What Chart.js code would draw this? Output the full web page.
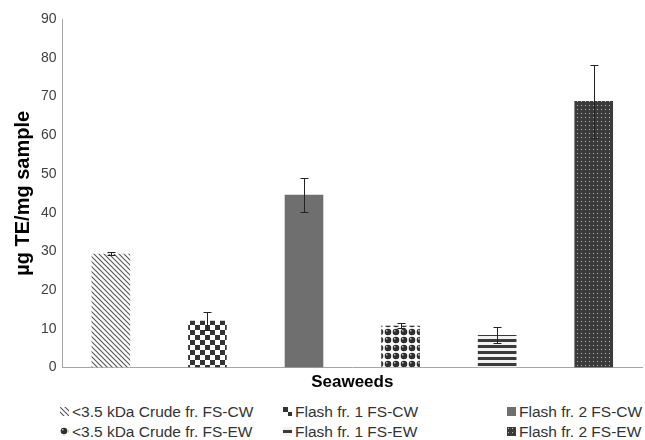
<!DOCTYPE html>
<html>
<head>
<meta charset="utf-8">
<script src="https://cdn.jsdelivr.net/npm/chart.js@4.4.0/dist/chart.umd.min.js"></script>
<style>
  html, body { margin: 0; padding: 0; background: #fff; }
  #wrap { width: 645px; height: 440px; position: relative; overflow: hidden; }
  #seaweed-chart { display: block; }
  #legend { position: absolute; left: 0; top: 402px; width: 645px; height: 40px;
            font-family: "Liberation Sans", Arial, sans-serif; font-size: 15.5px; color: #333; }
  .item { position: absolute; height: 20px; line-height: 20px; white-space: nowrap; }
  .item canvas { display: inline-block; vertical-align: middle; margin-right: 3px; position: relative; top: -1px; }
</style>
</head>
<body>
<div id="wrap">
  <canvas id="seaweed-chart" width="645" height="398"></canvas>
  <div id="legend"></div>
</div>
<script>
// data
var seriesNames = [
  "<3.5 kDa Crude fr. FS-CW",
  "Flash fr. 1 FS-CW",
  "Flash fr. 2 FS-CW",
  "<3.5 kDa Crude fr. FS-EW",
  "Flash fr. 1 FS-EW",
  "Flash fr. 2 FS-EW"
];
var values = [29.4, 12.1, 44.6, 10.8, 8.4, 68.8];
var errors = [0.4, 2.3, 4.4, 0.6, 2.1, 9.4];
var yTicks = [0, 10, 20, 30, 40, 50, 60, 70, 80, 90];

// little pattern tiles like the excel fills
function makeTile(w, h, draw) {
  var c = document.createElement("canvas");
  c.width = w;
  c.height = h;
  var g = c.getContext("2d");
  draw(g, w, h);
  return c.getContext("2d").createPattern(c, "repeat");
}

var diagonal = makeTile(5, 5, function (g, w, h) {
  g.fillStyle = "#fff";
  g.fillRect(0, 0, w, h);
  g.strokeStyle = "#555";
  g.lineWidth = 1.1;
  g.beginPath();
  g.moveTo(-1, -1); g.lineTo(w + 1, h + 1);
  g.moveTo(-1 - w, -1); g.lineTo(1, h + 1);
  g.moveTo(w - 1, -1); g.lineTo(2 * w + 1, h + 1);
  g.stroke();
});

var checker = makeTile(10, 10, function (g, w, h) {
  g.fillStyle = "#fff";
  g.fillRect(0, 0, w, h);
  g.fillStyle = "#333";
  g.fillRect(0, 0, 5, 5);
  g.fillRect(5, 5, 5, 5);
});

var solid = "#6f6f6f";

var spheres = makeTile(8, 8, function (g, w, h) {
  g.fillStyle = "#fff";
  g.fillRect(0, 0, w, h);
  g.fillStyle = "#2f2f2f";
  g.beginPath();
  g.arc(4, 4, 3.3, 0, Math.PI * 2);
  g.fill();
  g.fillStyle = "#bbb";
  g.fillRect(2, 2, 1.5, 1.5);
});

var hlines = makeTile(6, 6, function (g, w, h) {
  g.fillStyle = "#f2f2f2";
  g.fillRect(0, 0, w, h);
  g.fillStyle = "#3a3a3a";
  g.fillRect(0, 3, w, 3);
});

var dots = makeTile(4, 4, function (g, w, h) {
  g.fillStyle = "#3b3b3b";
  g.fillRect(0, 0, w, h);
  g.fillStyle = "#b5b5b5";
  g.fillRect(1, 1, 1, 1);
});

var fills = [diagonal, checker, solid, spheres, hlines, dots];

var datasets = seriesNames.map(function (name, i) {
  return {
    label: name,
    data: [values[i]],
    errs: [errors[i]],
    backgroundColor: fills[i],
    borderWidth: 0,
    categoryPercentage: 1.0,
    barPercentage: 0.4
  };
});

// excel style error bars
var errorBars = {
  id: "errorBars",
  afterDatasetsDraw: function (chart) {
    var ctx = chart.ctx;
    var yScale = chart.scales.y;
    ctx.save();
    ctx.strokeStyle = "#222";
    ctx.lineWidth = 1;
    chart.data.datasets.forEach(function (ds, i) {
      var meta = chart.getDatasetMeta(i);
      meta.data.forEach(function (bar, j) {
        var v = ds.data[j];
        var e = ds.errs[j];
        var top = Math.round(yScale.getPixelForValue(v + e)) + 0.5;
        var bot = Math.round(yScale.getPixelForValue(v - e)) + 0.5;
        var x = Math.round(bar.x) + 0.5;
        ctx.beginPath();
        ctx.moveTo(x, top); ctx.lineTo(x, bot);
        ctx.moveTo(x - 4, top); ctx.lineTo(x + 4, top);
        ctx.moveTo(x - 4, bot); ctx.lineTo(x + 4, bot);
        ctx.stroke();
      });
    });
    ctx.restore();
  }
};

// legend in html so the three columns sit where excel put them
var legendCols = [60, 283, 507];
var htmlLegend = {
  id: "htmlLegend",
  afterUpdate: function (chart) {
    var box = document.getElementById("legend");
    box.innerHTML = "";
    chart.data.datasets.forEach(function (ds, i) {
      var item = document.createElement("div");
      item.className = "item";
      item.style.left = legendCols[i % 3] + "px";
      item.style.top = (Math.floor(i / 3) * 20) + "px";
      var sw = document.createElement("canvas");
      sw.width = 9;
      sw.height = 9;
      var g = sw.getContext("2d");
      g.fillStyle = ds.backgroundColor;
      g.fillRect(0, 0, 9, 9);
      item.appendChild(sw);
      item.appendChild(document.createTextNode(ds.label));
      box.appendChild(item);
    });
  }
};

var ctx = document.getElementById("seaweed-chart");

window.myChart = new Chart(ctx, {
  type: "bar",
  data: {
    labels: [""],
    datasets: datasets
  },
  plugins: [errorBars, htmlLegend],
  options: {
    responsive: false,
    animation: false,
    layout: { padding: { top: 19, right: 3, left: 11, bottom: 0 } },
    scales: {
      x: {
        grid: { display: false, drawTicks: false },
        border: { color: "#a6a6a6", width: 1 },
        ticks: { display: false },
        title: {
          display: true,
          text: "Seaweeds",
          color: "#000",
          font: { family: "Liberation Sans", size: 17, weight: "bold" },
          padding: { top: 5, bottom: 5 }
        }
      },
      y: {
        min: 0,
        max: 90,
        afterBuildTicks: function (axis) {
          axis.ticks = yTicks.map(function (t) { return { value: t }; });
        },
        grid: { display: false, drawTicks: false },
        border: { color: "#a6a6a6", width: 1 },
        ticks: {
          color: "#404040",
          padding: 6,
          font: { family: "Liberation Sans", size: 14 }
        },
        title: {
          display: true,
          text: "\u00b5g TE/mg sample",
          color: "#000",
          font: { family: "Liberation Sans", size: 20, weight: "bold" },
          padding: { top: 0, bottom: 0 }
        }
      }
    },
    plugins: {
      tooltip: { enabled: false },
      legend: { display: false }
    }
  }
});
</script>
</body>
</html>
